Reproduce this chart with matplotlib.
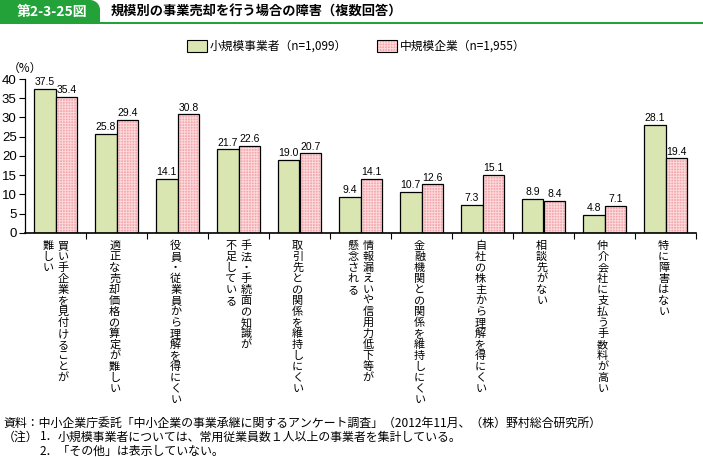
import matplotlib
matplotlib.use('Agg')
import matplotlib.pyplot as plt
import matplotlib.patches as mpatches
import matplotlib.transforms as mtransforms
import numpy as np

plt.rcParams['font.family'] = ['Noto Sans CJK JP', 'DejaVu Sans']
plt.rcParams['hatch.linewidth'] = 0.7

# data
categories = [
    ["買い手企業を見付けることが", "難しい"],
    ["適正な売却価格の算定が難しい"],
    ["役員・従業員から理解を得にくい"],
    ["手法・手続面の知識が", "不足している"],
    ["取引先との関係を維持しにくい"],
    ["情報漏えいや信用力低下等が", "懸念される"],
    ["金融機関との関係を維持しにくい"],
    ["自社の株主から理解を得にくい"],
    ["相談先がない"],
    ["仲介会社に支払う手数料が高い"],
    ["特に障害はない"],
]
small = [37.5, 25.8, 14.1, 21.7, 19.0, 9.4, 10.7, 7.3, 8.9, 4.8, 28.1]
mid = [35.4, 29.4, 30.8, 22.6, 20.7, 14.1, 12.6, 15.1, 8.4, 7.1, 19.4]
series_names = ["小規模事業者（n=1,099）", "中規模企業（n=1,955）"]
yticks = [0, 5, 10, 15, 20, 25, 30, 35, 40]

W, H = 703, 457
green = '#d9e6b1'
pink = '#f4a8ae'
pink_hatch = '#fcd9db'
title_green = '#23a23a'

fig = plt.figure(figsize=(W / 100, H / 100), dpi=100)
ax = fig.add_axes([25 / W, 1 - 233 / H, 671 / W, 154 / H])

x = np.arange(len(categories))
w = 0.36
ax.bar(x - w / 2, small, w, color=green, edgecolor='black', linewidth=0.9, zorder=2)
ax.bar(x + w / 2, mid, w, color=pink, edgecolor=pink_hatch, hatch='++++++', linewidth=0, zorder=2)
ax.bar(x + w / 2, mid, w, fill=False, edgecolor='black', linewidth=0.9, zorder=3)

for xi, v in zip(x - w / 2, small):
    ax.text(xi, v + 0.4, f"{v:.1f}", ha='center', va='bottom', fontsize=7.5, family='Liberation Sans')
for xi, v in zip(x + w / 2, mid):
    ax.text(xi, v + 0.4, f"{v:.1f}", ha='center', va='bottom', fontsize=7.5, family='Liberation Sans')

ax.set_xlim(-0.5, len(categories) - 0.5)
ax.set_ylim(0, 40)
ax.set_yticks(yticks)
ax.set_yticklabels([str(t) for t in yticks], fontsize=9.5, family='Liberation Sans')
ax.tick_params(axis='y', direction='out', length=4, width=0.8, pad=2)
ax.set_xticks([])
ax.set_xticks(np.arange(len(categories)) + 0.5, minor=True)
ax.tick_params(axis='x', which='minor', direction='out', length=4, width=0.8)
for s in ['top', 'right']:
    ax.spines[s].set_visible(False)
ax.spines['left'].set_linewidth(0.9)
ax.spines['bottom'].set_linewidth(1.2)

# vertical category labels (tategaki, right column first)
trans = mtransforms.blended_transform_factory(ax.transData, fig.transFigure)
pitch = 11.0
for i, cols in enumerate(categories):
    n = len(cols)
    for j, col in enumerate(cols):
        off = 0.0 if n == 1 else (0.125 if j == 0 else -0.125)
        for k, ch in enumerate(col):
            ypix = 246 + k * pitch
            ax.text(i + off - (0.03 if n == 1 else 0), 1 - ypix / H, ch, transform=trans,
                    ha='center', va='center', fontsize=8)

fig.text(8 / W, 1 - 68 / H, "（%）", fontsize=8.5, ha='left', va='center')

# title tab
ident = mtransforms.IdentityTransform()
r = 10
fig.patches.append(mpatches.Rectangle((0, H - 23), 100 - r, 23, transform=ident, color=title_green, lw=0))
fig.patches.append(mpatches.Rectangle((0, H - 23), 100, 23 - r, transform=ident, color=title_green, lw=0))
fig.patches.append(mpatches.Circle((100 - r, H - r), r, transform=ident, color=title_green, lw=0))
fig.patches.append(mpatches.Rectangle((0, H - 23.5), W, 2, transform=ident, color=title_green, lw=0))
fig.text(52 / W, 1 - 12 / H, "第2-3-25図", color='white', fontsize=10, fontweight='bold',
         ha='center', va='center')
fig.text(111 / W, 1 - 12 / H, "規模別の事業売却を行う場合の障害（複数回答）", fontsize=9.5,
         fontweight='bold', ha='left', va='center')

# legend
fig.patches.append(mpatches.Rectangle((187, H - 52), 20, 12, transform=ident,
                                      facecolor=green, edgecolor='black', lw=0.8))
fig.patches.append(mpatches.Rectangle((377, H - 52), 20, 12, transform=ident,
                                      facecolor=pink, edgecolor=pink_hatch, hatch='++++++', lw=0))
fig.patches.append(mpatches.Rectangle((377, H - 52), 20, 12, transform=ident,
                                      fill=False, edgecolor='black', lw=0.8))
fig.text(210 / W, 1 - 46 / H, series_names[0], fontsize=8.5, ha='left', va='center')
fig.text(400 / W, 1 - 46 / H, series_names[1], fontsize=8.5, ha='left', va='center')

# notes
fs = 8.6
fig.text(3 / W, 1 - 423 / H, "資料：中小企業庁委託「中小企業の事業承継に関するアンケート調査」（2012年11月、（株）野村総合研究所）",
         fontsize=fs, ha='left', va='center')
fig.text(3 / W, 1 - 437 / H, "（注）", fontsize=fs, ha='left', va='center')
fig.text(40 / W, 1 - 437 / H, "1．", fontsize=fs, ha='left', va='center')
fig.text(58 / W, 1 - 437 / H, "小規模事業者については、常用従業員数１人以上の事業者を集計している。",
         fontsize=fs, ha='left', va='center')
fig.text(40 / W, 1 - 451 / H, "2．「その他」は表示していない。", fontsize=fs, ha='left', va='center')

fig.savefig('out.png', dpi=100)
